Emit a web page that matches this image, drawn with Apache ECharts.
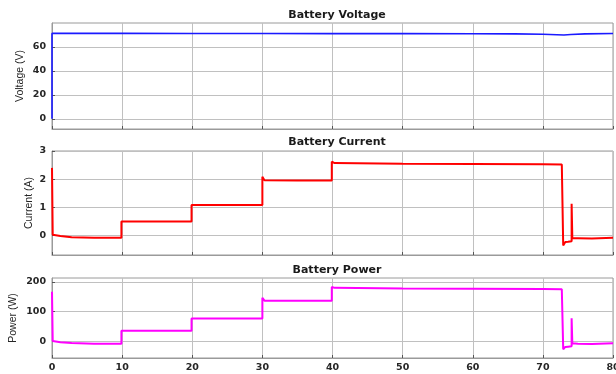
<!DOCTYPE html>
<html>
<head>
<meta charset="utf-8">
<script src="https://cdn.jsdelivr.net/npm/echarts@6/dist/echarts.min.js"></script>
<style>
html,body{margin:0;padding:0;background:#fff;}
#c{width:616px;height:374px;}
</style>
</head>
<body>
<div id="c"></div>
<script>
// ---- data ----
var titles = ['Battery Voltage', 'Battery Current', 'Battery Power'];
var yNames = ['Voltage (V)', 'Current (A)', 'Power (W)'];
var xTicks = [0, 10, 20, 30, 40, 50, 60, 70, 80];
var voltageTicks = [0, 20, 40, 60];
var currentTicks = [0, 1, 2, 3];
var powerTicks = [0, 100, 200];

var voltageT = [0, 0, 0.1, 10, 20, 30, 40, 50, 60, 66, 70, 72, 73, 74, 76, 80];
var voltageV = [0, 71.3, 71.3, 71.3, 71.2, 71.2, 71.1, 71.1, 71.0, 70.9, 70.6, 70.2, 70.0, 70.4, 70.9, 71.2];

var currentT = [0, 0.1, 1.2, 2.8, 6, 9.9, 9.9, 15, 19.9, 19.9, 25, 30.0, 30.0, 30.3, 35, 39.9, 39.9, 40.3, 50, 60, 70, 72.7, 72.9, 73.2, 73.6, 74.1, 74.1, 74.2, 75, 77, 80];
var currentV = [2.4, 0.02, -0.02, -0.07, -0.09, -0.09, 0.49, 0.49, 0.49, 1.08, 1.08, 1.08, 2.08, 1.96, 1.95, 1.95, 2.62, 2.57, 2.55, 2.54, 2.53, 2.52, -0.36, -0.24, -0.23, -0.21, 1.12, -0.1, -0.1, -0.11, -0.09];

var powerT = [0, 0.1, 1.2, 2.8, 6, 9.9, 9.9, 15, 19.9, 19.9, 25, 30.0, 30.0, 30.3, 35, 39.9, 39.9, 40.3, 50, 60, 70, 72.7, 72.9, 73.2, 73.6, 74.1, 74.1, 74.2, 75, 77, 80];
var powerV = [167, 2, -2, -5, -7, -7, 36, 36, 36, 77, 77, 77, 147, 137, 137, 137, 183, 180, 178, 177, 176, 175, -26, -18, -17, -16, 78, -6, -7, -8, -6];

function pairs(t, v) { return t.map(function (x, i) { return [x, v[i]]; }); }

var grids = [
  {left: 52, right: 3, top: 23, height: 106},
  {left: 52, right: 3, top: 151, height: 104},
  {left: 52, right: 3, top: 278, height: 80}
];
var ranges = [[-8.5, 80], [-0.7, 3], [-55, 213]];
var yTicks = [voltageTicks, currentTicks, powerTicks];
var nameGaps = [26, 17, 33];
var colors = ['#1a1aff', '#ff0000', '#ff00ff'];
var widths = [1.6, 2, 2];
var seriesData = [pairs(voltageT, voltageV), pairs(currentT, currentV), pairs(powerT, powerV)];
var titleTops = [5, 132, 260];

var gridLine = '#c0c0c0';
var axisCol = '#9a9a9a';
var font = 'Liberation Sans, Arial, Helvetica, sans-serif';
var boldFont = 'DejaVu Sans, Liberation Sans, sans-serif';

var option = {
  animation: false,
  backgroundColor: '#fff',
  title: titles.map(function (t, i) {
    return {text: t, left: 332, top: titleTops[i], textAlign: 'center',
      textStyle: {fontSize: 11, fontWeight: 'bold', color: '#1a1a1a', fontFamily: boldFont}};
  }),
  grid: grids.map(function (g) {
    return {left: g.left, right: g.right, top: g.top, height: g.height,
      outerBoundsMode: 'none', containLabel: false,
      show: true, borderColor: axisCol, borderWidth: 1, backgroundColor: '#fff'};
  }),
  xAxis: grids.map(function (g, i) {
    return {
      type: 'value', gridIndex: i, min: 0, max: 80, interval: 10,
      axisLine: {show: true, onZero: false, lineStyle: {color: axisCol}},
      axisTick: {show: true, inside: true, length: 3, lineStyle: {color: '#555'}},
      splitLine: {show: true, lineStyle: {color: gridLine, width: 1}},
      axisLabel: {show: i === 2, fontSize: 9.5, fontWeight: 'bold', color: '#262626',
        fontFamily: boldFont, margin: 5, customValues: xTicks}
    };
  }),
  yAxis: grids.map(function (g, i) {
    return {
      type: 'value', gridIndex: i, min: ranges[i][0], max: ranges[i][1],
      name: yNames[i], nameLocation: 'middle', nameGap: nameGaps[i], nameMoveOverlap: false,
      nameTextStyle: {fontSize: 10.5, color: '#262626', fontFamily: font},
      axisLine: {show: true, onZero: false, lineStyle: {color: axisCol}},
      axisTick: {show: true, inside: true, length: 3, lineStyle: {color: '#555'}, customValues: yTicks[i]},
      splitLine: {show: true, lineStyle: {color: gridLine, width: 1}},
      axisLabel: {fontSize: 9.5, fontWeight: 'bold', color: '#262626', fontFamily: boldFont,
        margin: 6, customValues: yTicks[i]}
    };
  }),
  series: seriesData.map(function (d, i) {
    return {
      type: 'line', xAxisIndex: i, yAxisIndex: i, data: d,
      showSymbol: false, symbol: 'none', silent: true,
      lineStyle: {color: colors[i], width: widths[i]},
      clip: true
    };
  })
};
var chart = echarts.init(document.getElementById('c'), null, {renderer: 'canvas'});
chart.setOption(option);
</script>
</body>
</html>
